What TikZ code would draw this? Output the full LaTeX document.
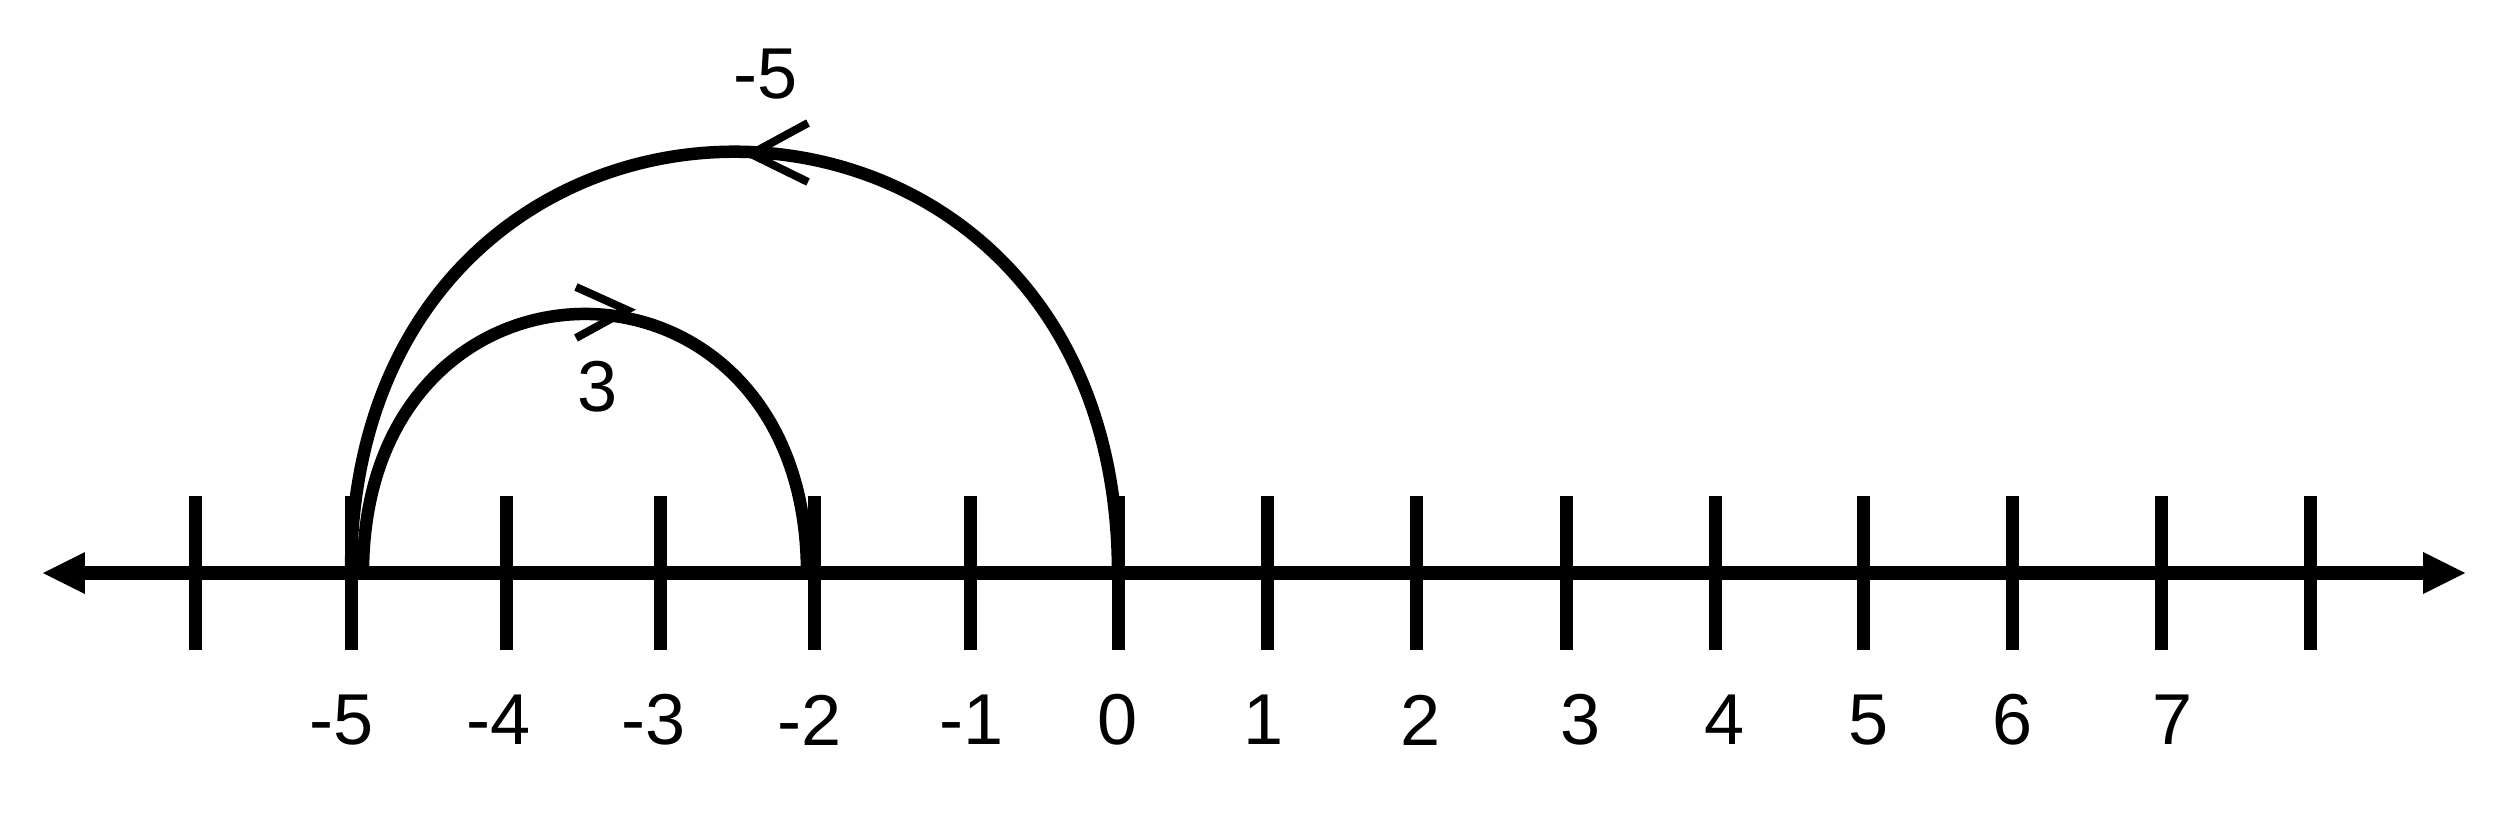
\documentclass[tikz,border=0pt]{standalone}
\usepackage{fontspec}
\setmainfont{Liberation Sans}
\usetikzlibrary{arrows.meta}

\begin{document}
\begin{tikzpicture}
		\tikzstyle {axis line} = [line width=0.14cm, {Triangle[length=0.42cm,width=0.42cm,line width=0pt]}-{Triangle[length=0.42cm,width=0.42cm,line width=0pt]}]
		\tikzstyle {tick line} = [line width=0.13cm]
		\tikzstyle {jump line} = [line width=0.125cm]
		\tikzstyle {chevron} = [line width=0.08cm]
		\tikzstyle {number} = [inner sep=0pt, font=\fontsize{20.5}{24}\selectfont]

		\useasboundingbox (0,-2.46) rectangle (25.07,5.73);

		\coordinate (left end) at (0.43,0);
		\coordinate (right end) at (24.65,0);
		\draw[axis line] (left end) -- (right end);

		\foreach \i/\x in {0/1.955, 1/3.51, 2/5.06, 3/6.60, 4/8.145, 5/9.70, 6/11.18, 7/12.676, 8/14.168, 9/15.66, 10/17.15, 11/18.633, 12/20.124, 13/21.615, 14/23.106}
		{
			\coordinate (tick\i) at (\x,0);
			\draw[tick line] (\x,0.77) -- (\x,-0.77);
		}

		\foreach \v/\lx in {-5/3.42, -4/4.99, -3/6.535, -2/8.10, -1/9.72, 0/11.18, 1/12.64, 2/14.21, 3/15.81, 4/17.25, 5/18.69, 6/20.13, 7/21.73}
		{
			\node[number] (lbl\v) at (\lx,-1.47) {\v};
		}

		% jump of -5 from 0
		\draw[jump line] (tick6) to[out=90, in=90, looseness=1.878] (tick1);
		\coordinate (big tip) at (7.51,4.19);
		\draw[chevron] (big tip) ++(0.57,0.31) -- (big tip) -- ++(0.57,-0.28);
		\node[number] (step big) at (7.66,4.99) {-5};

		% jump of 3 from -5
		\coordinate (small start) at (3.63,0);
		\coordinate (small end) at (8.07,0);
		\draw[jump line] (small start) to[out=90, in=90, looseness=1.995] (small end);
		\coordinate (small tip) at (6.27,2.63);
		\draw[chevron] (small tip) ++(-0.51,0.23) -- (small tip) -- ++(-0.51,-0.28);
		\node[number] (step small) at (5.98,1.86) {3};

\end{tikzpicture}
\end{document}
